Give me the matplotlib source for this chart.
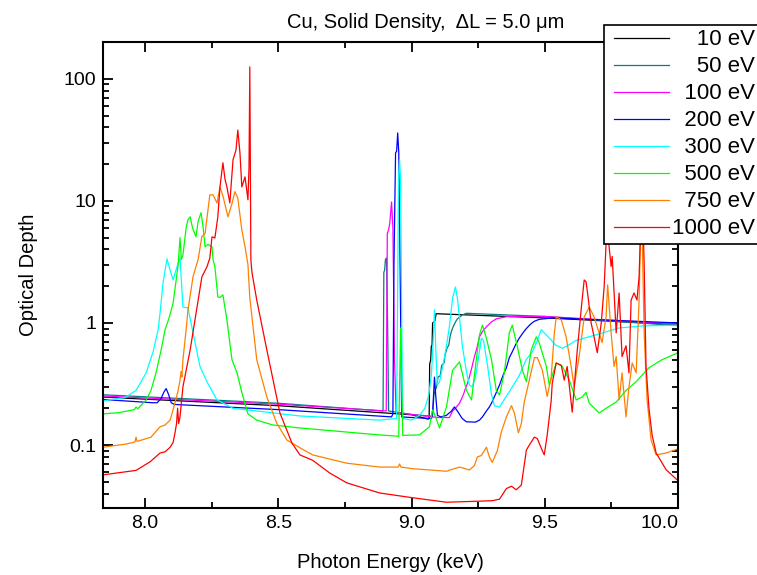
import matplotlib
matplotlib.use("Agg")
import matplotlib.pyplot as plt
from matplotlib.ticker import FixedLocator, LogLocator, NullFormatter
from matplotlib.legend_handler import HandlerLine2D
from matplotlib.lines import Line2D

plt.rcParams['font.family'] = ['Liberation Sans', 'DejaVu Sans']

# ---------------- data (photon energy keV, optical depth) ----------------
labels = ["10 eV", "50 eV", "100 eV", "200 eV", "300 eV", "500 eV", "750 eV", "1000 eV"]
colors = ["#000000", "#008080", "#ff00ff", "#0000ff", "#00ffff", "#00ff00", "#ff8000", "#ff0000"]

E10 = [(7.843, 0.247), (8.500, 0.210), (9.000, 0.177), (9.062, 0.163), (9.066, 0.165),
       (9.068, 0.46), (9.072, 0.50), (9.074, 0.64), (9.077, 0.66), (9.079, 1.00),
       (9.088, 1.04), (9.092, 1.19), (9.500, 1.10), (10.0, 0.97)]

E50 = [(7.843, 0.258), (8.500, 0.220), (8.893, 0.190), (8.896, 2.6), (8.899, 2.7),
       (8.902, 3.3), (8.906, 3.4), (8.910, 1.0), (8.914, 0.19), (9.000, 0.178),
       (9.079, 0.172), (9.084, 0.26), (9.094, 0.30), (9.099, 0.36), (9.108, 0.37),
       (9.113, 0.45), (9.122, 0.47), (9.126, 0.55), (9.133, 0.62), (9.140, 0.66),
       (9.144, 0.76), (9.150, 0.86), (9.158, 0.95), (9.165, 1.02), (9.172, 1.08),
       (9.190, 1.16), (9.206, 1.20), (9.500, 1.13), (10.0, 0.95)]

E100 = [(7.843, 0.252), (8.500, 0.216), (8.905, 0.190), (8.909, 5.4), (8.914, 5.8),
        (8.918, 6.5), (8.925, 9.8), (8.930, 6.0), (8.936, 0.5), (8.942, 0.185),
        (9.000, 0.178), (9.100, 0.168), (9.142, 0.168), (9.154, 0.19), (9.165, 0.20),
        (9.172, 0.21), (9.180, 0.22), (9.188, 0.24), (9.195, 0.26), (9.202, 0.29),
        (9.210, 0.32), (9.217, 0.36), (9.225, 0.42), (9.236, 0.53), (9.245, 0.62),
        (9.255, 0.77), (9.266, 0.85), (9.281, 0.93), (9.300, 1.02), (9.318, 1.08),
        (9.360, 1.13), (9.500, 1.13), (10.0, 0.98)]

E200 = [(7.843, 0.236), (8.030, 0.222), (8.045, 0.222), (8.060, 0.240), (8.070, 0.270),
        (8.079, 0.290), (8.088, 0.260), (8.098, 0.222), (8.110, 0.215), (8.500, 0.195),
        (8.925, 0.170), (8.930, 0.18), (8.934, 3.0), (8.940, 24.7), (8.944, 25.5),
        (8.948, 36.0), (8.952, 25.0), (8.957, 3.0), (8.963, 0.170), (9.000, 0.168),
        (9.075, 0.165), (9.080, 0.20), (9.086, 0.36), (9.091, 0.25), (9.097, 0.175),
        (9.110, 0.170), (9.131, 0.175), (9.150, 0.190), (9.161, 0.205), (9.172, 0.190),
        (9.190, 0.165), (9.206, 0.155), (9.240, 0.154), (9.255, 0.160), (9.266, 0.170),
        (9.281, 0.190), (9.292, 0.205), (9.300, 0.220), (9.315, 0.260), (9.330, 0.310),
        (9.345, 0.380), (9.356, 0.430), (9.367, 0.520), (9.378, 0.580), (9.390, 0.660),
        (9.404, 0.750), (9.420, 0.840), (9.431, 0.900), (9.445, 0.970), (9.460, 1.030),
        (9.479, 1.070), (9.530, 1.100), (10.0, 1.000)]

E300 = [(7.843, 0.230), (7.925, 0.245), (7.966, 0.28), (8.004, 0.39), (8.030, 0.58),
        (8.049, 0.88), (8.056, 1.2), (8.067, 2.1), (8.082, 3.35), (8.094, 2.7),
        (8.105, 2.25), (8.120, 2.9), (8.131, 3.4), (8.142, 1.35), (8.161, 1.33),
        (8.180, 0.83), (8.206, 0.44), (8.232, 0.33), (8.270, 0.234), (8.330, 0.200),
        (8.581, 0.173), (8.880, 0.160), (8.944, 0.165), (8.948, 2.0), (8.951, 15.0),
        (8.955, 21.7), (8.959, 15.0), (8.963, 1.0), (8.967, 0.165), (9.000, 0.160),
        (9.030, 0.175), (9.050, 0.20), (9.065, 0.26), (9.075, 0.39), (9.081, 0.70),
        (9.086, 1.28), (9.091, 0.60), (9.097, 0.31), (9.105, 0.33), (9.118, 0.45),
        (9.131, 0.65), (9.142, 0.93), (9.154, 1.60), (9.165, 1.97), (9.172, 1.60),
        (9.180, 1.10), (9.191, 0.64), (9.206, 0.40), (9.217, 0.31), (9.228, 0.30),
        (9.240, 0.36), (9.250, 0.50), (9.262, 0.75), (9.270, 0.72), (9.285, 0.45),
        (9.300, 0.26), (9.311, 0.21), (9.330, 0.205), (9.350, 0.24), (9.370, 0.28),
        (9.404, 0.37), (9.430, 0.50), (9.453, 0.58), (9.470, 0.70), (9.487, 0.88),
        (9.500, 0.82), (9.520, 0.74), (9.540, 0.66), (9.566, 0.62), (9.590, 0.66),
        (9.618, 0.72), (9.693, 0.80), (9.779, 0.91), (9.865, 0.945), (10.0, 0.96)]

E500 = [(7.843, 0.180), (7.900, 0.184), (7.960, 0.195), (7.966, 0.205), (7.972, 0.198),
        (8.004, 0.234), (8.022, 0.28), (8.041, 0.39), (8.060, 0.60), (8.075, 0.88),
        (8.090, 1.10), (8.105, 1.45), (8.116, 2.2), (8.124, 3.0), (8.131, 5.0),
        (8.136, 3.3), (8.142, 3.6), (8.154, 6.0), (8.161, 7.0), (8.169, 7.4),
        (8.178, 6.0), (8.191, 5.07), (8.199, 6.8), (8.210, 8.0), (8.218, 6.0),
        (8.225, 4.2), (8.236, 4.4), (8.251, 4.2), (8.255, 3.3), (8.262, 2.88),
        (8.273, 1.63), (8.282, 1.62), (8.292, 1.70), (8.307, 1.06), (8.326, 0.50),
        (8.345, 0.39), (8.363, 0.27), (8.386, 0.18), (8.419, 0.16), (8.479, 0.146),
        (8.581, 0.138), (8.880, 0.121), (8.952, 0.118), (8.955, 0.30), (8.959, 0.91),
        (8.963, 0.30), (8.967, 0.120), (9.030, 0.121), (9.067, 0.141), (9.079, 0.194),
        (9.090, 0.170), (9.105, 0.138), (9.131, 0.205), (9.154, 0.41), (9.180, 0.48),
        (9.206, 0.28), (9.225, 0.234), (9.243, 0.50), (9.255, 0.80), (9.266, 0.96),
        (9.281, 0.75), (9.300, 0.50), (9.318, 0.28), (9.330, 0.257), (9.348, 0.39),
        (9.367, 0.83), (9.378, 0.96), (9.397, 0.64), (9.416, 0.41), (9.431, 0.33),
        (9.449, 0.60), (9.468, 0.77), (9.479, 0.69), (9.506, 0.44), (9.517, 0.31),
        (9.543, 0.47), (9.566, 0.44), (9.592, 0.34), (9.618, 0.234), (9.640, 0.247),
        (9.655, 0.27), (9.667, 0.22), (9.704, 0.183), (9.730, 0.20), (9.768, 0.225),
        (9.805, 0.28), (9.843, 0.33), (9.891, 0.43), (9.940, 0.50), (10.0, 0.57)]

E750 = [(7.843, 0.096), (7.930, 0.102), (7.962, 0.106), (7.966, 0.116), (7.970, 0.107),
        (8.022, 0.116), (8.056, 0.141), (8.075, 0.146), (8.094, 0.160), (8.112, 0.221),
        (8.124, 0.28), (8.131, 0.34), (8.135, 0.40), (8.138, 0.36), (8.142, 0.50),
        (8.154, 0.88), (8.161, 1.28), (8.180, 2.4), (8.195, 3.1), (8.199, 3.3),
        (8.213, 5.1), (8.225, 5.4), (8.243, 11.2), (8.255, 11.2), (8.270, 9.6),
        (8.281, 13.0), (8.292, 11.0), (8.311, 7.4), (8.326, 9.5), (8.337, 11.9),
        (8.348, 10.5), (8.363, 5.8), (8.375, 4.2), (8.386, 3.0), (8.393, 1.6),
        (8.419, 0.50), (8.457, 0.247), (8.494, 0.151), (8.532, 0.110), (8.581, 0.095),
        (8.629, 0.083), (8.757, 0.071), (8.880, 0.066), (8.950, 0.066), (8.955, 0.070),
        (8.960, 0.066), (9.004, 0.064), (9.131, 0.061), (9.150, 0.063), (9.180, 0.066),
        (9.217, 0.0625), (9.236, 0.068), (9.247, 0.080), (9.262, 0.082), (9.281, 0.096),
        (9.292, 0.080), (9.303, 0.072), (9.322, 0.090), (9.337, 0.128), (9.356, 0.170),
        (9.375, 0.210), (9.386, 0.183), (9.401, 0.126), (9.412, 0.150), (9.423, 0.225),
        (9.442, 0.34), (9.461, 0.52), (9.472, 0.52), (9.491, 0.41), (9.509, 0.25),
        (9.524, 0.36), (9.536, 0.83), (9.543, 1.12), (9.562, 1.06), (9.580, 0.77),
        (9.599, 0.44), (9.610, 0.30), (9.629, 0.53), (9.648, 1.12), (9.667, 1.35),
        (9.685, 1.12), (9.704, 0.83), (9.715, 0.69), (9.730, 1.12), (9.736, 2.05),
        (9.749, 0.83), (9.760, 0.44), (9.768, 0.53), (9.779, 0.234), (9.790, 0.39),
        (9.805, 0.17), (9.816, 0.30), (9.828, 0.47), (9.843, 0.39), (9.854, 1.54),
        (9.861, 8.0), (9.865, 6.0), (9.873, 0.83), (9.884, 0.234), (9.899, 0.110),
        (9.918, 0.083), (9.955, 0.086), (10.0, 0.093)]

E1000 = [(7.843, 0.057), (7.966, 0.062), (8.019, 0.073), (8.056, 0.086), (8.075, 0.088),
         (8.094, 0.096), (8.105, 0.105), (8.112, 0.125), (8.118, 0.15), (8.122, 0.20),
         (8.126, 0.15), (8.131, 0.17), (8.142, 0.30), (8.169, 0.60), (8.195, 1.35),
         (8.213, 2.38), (8.232, 2.88), (8.243, 3.4), (8.251, 5.07), (8.262, 4.97),
         (8.273, 7.4), (8.281, 13.0), (8.292, 20.5), (8.300, 15.0), (8.307, 13.0),
         (8.318, 9.6), (8.330, 21.7), (8.341, 26.0), (8.348, 38.0), (8.356, 24.7),
         (8.363, 13.0), (8.375, 15.7), (8.386, 10.2), (8.390, 19.0), (8.393, 125.0),
         (8.397, 3.3), (8.401, 2.6), (8.419, 1.54), (8.457, 0.60), (8.506, 0.183),
         (8.551, 0.104), (8.581, 0.083), (8.629, 0.075), (8.693, 0.059), (8.757, 0.049),
         (8.880, 0.0405), (9.004, 0.037), (9.131, 0.034), (9.255, 0.0347), (9.303, 0.035),
         (9.330, 0.036), (9.356, 0.044), (9.375, 0.046), (9.393, 0.043), (9.412, 0.047),
         (9.431, 0.091), (9.442, 0.100), (9.461, 0.116), (9.472, 0.113), (9.487, 0.094),
         (9.498, 0.083), (9.509, 0.120), (9.524, 0.23), (9.528, 0.32), (9.543, 0.47),
         (9.562, 0.45), (9.573, 0.34), (9.584, 0.44), (9.603, 0.186), (9.622, 0.60),
         (9.640, 1.54), (9.648, 2.25), (9.655, 2.17), (9.663, 1.60), (9.674, 1.00),
         (9.685, 0.77), (9.697, 0.57), (9.712, 1.00), (9.723, 2.0), (9.734, 7.0),
         (9.738, 5.0), (9.749, 2.9), (9.753, 3.5), (9.768, 0.83), (9.779, 1.76),
         (9.790, 0.53), (9.805, 0.65), (9.816, 0.39), (9.824, 1.54), (9.835, 1.76),
         (9.846, 1.54), (9.854, 2.4), (9.861, 7.4), (9.865, 15.0), (9.873, 3.0),
         (9.880, 0.44), (9.891, 0.20), (9.903, 0.12), (9.918, 0.086), (9.955, 0.063),
         (10.0, 0.051)]

series = [E10, E50, E100, E200, E300, E500, E750, E1000]

x_ticks = [8.0, 8.5, 9.0, 9.5, 10.0]
x_tick_labels = ["8.0", "8.5", "9.0", "9.5", "10.0"]
y_ticks = [0.1, 1, 10, 100]
y_tick_labels = ["0.1", "1", "10", "100"]

# ---------------- figure ----------------
fig = plt.figure(figsize=(7.57, 5.75), dpi=100)
ax = fig.add_axes([103 / 757, 1 - 508 / 575, 575 / 757, 466 / 575])

FS = 14
for pts, lab, col in zip(series, labels, colors):
    xs = [p[0] for p in pts]
    ys = [p[1] for p in pts]
    ax.plot(xs, ys, color=col, lw=0.9, label=lab)

ax.set_yscale('log')
ax.set_xlim(7.842, 10.0)
ax.set_ylim(0.0305, 200)

ax.set_xticks(x_ticks, labels=x_tick_labels)
ax.xaxis.set_minor_locator(FixedLocator([7.75, 8.25, 8.75, 9.25, 9.75]))
ax.set_yticks(y_ticks, labels=y_tick_labels)
ax.yaxis.set_minor_locator(LogLocator(base=10, subs=range(2, 10)))
ax.yaxis.set_minor_formatter(NullFormatter())
ax.get_xticklabels()[-1].set_horizontalalignment('right')

ax.tick_params(which='both', direction='in', top=True, right=True, width=1.3,
               labelsize=FS)
ax.tick_params(which='major', length=7.5)
ax.tick_params(which='minor', length=4.5)
ax.tick_params(axis='x', pad=5)
ax.tick_params(axis='y', pad=5)
for s in ax.spines.values():
    s.set_linewidth(1.5)

ax.set_xlabel("Photon Energy (keV)", fontsize=FS + 0.5, labelpad=15)
ax.set_ylabel("Optical Depth", fontsize=FS + 0.5, labelpad=18)
ax.set_title("Cu, Solid Density,  \u0394L = 5.0 \u03bcm", fontsize=FS + 0.5, pad=10,
             x=(426 - 103) / 575)

fs = "\u2007"
leg_labels = [fs * 2 + "10 eV", fs * 2 + "50 eV", fs + "100 eV", fs + "200 eV",
              fs + "300 eV", fs + "500 eV", fs + "750 eV", "1000 eV"]
handles = ax.get_lines()
hmap = {Line2D: HandlerLine2D(marker_pad=0.1, xpad=0.26)}
leg = fig.legend(handles, leg_labels, loc='upper left',
                 bbox_to_anchor=(604 / 757, 1 - 25 / 575),
                 bbox_transform=fig.transFigure, borderaxespad=0,
                 fontsize=16, frameon=True, fancybox=False, shadow=False,
                 framealpha=1, edgecolor='black', handlelength=2.71,
                 handletextpad=0.17, labelspacing=0.27, borderpad=0.2,
                 handler_map=hmap)
leg.get_frame().set_linewidth(1.2)

fig.savefig("out.png", dpi=100)
